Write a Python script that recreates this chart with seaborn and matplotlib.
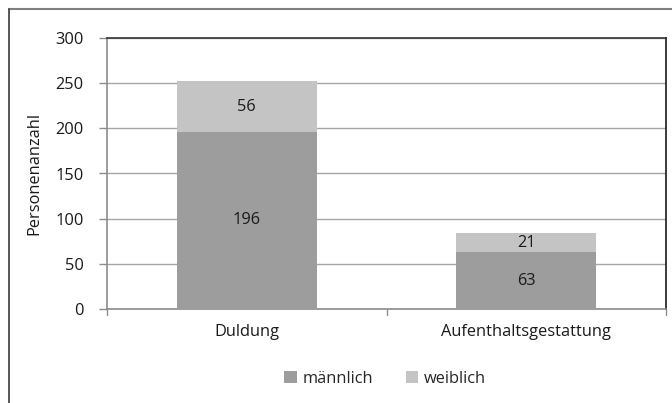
import matplotlib
matplotlib.use("Agg")
import matplotlib.pyplot as plt
import seaborn as sns
import pandas as pd
from matplotlib.patches import Patch
from matplotlib.lines import Line2D

categories = ["Duldung", "Aufenthaltsgestattung"]
maennlich = [196, 63]
weiblich = [56, 21]
series_names = ["männlich", "weiblich"]
y_ticks = [0, 50, 100, 150, 200, 250, 300]

col_m = "#9d9d9d"
col_w = "#c4c4c4"
FS = 11.8

sns.set_theme(style="white")
plt.rcParams["font.family"] = ["Open Sans", "DejaVu Sans"]

df = pd.DataFrame({"Kategorie": categories, "männlich": maennlich, "weiblich": weiblich})
df["gesamt"] = df["männlich"] + df["weiblich"]

fig = plt.figure(figsize=(6.72, 4.03), dpi=100)
ax = fig.add_axes([107/672, 1-309/403, (666-107)/672, (309-38)/403])

sns.barplot(data=df, x="Kategorie", y="gesamt", color=col_w, width=0.5,
            saturation=1, ax=ax, zorder=3, linewidth=0)
sns.barplot(data=df, x="Kategorie", y="männlich", color=col_m, width=0.5,
            saturation=1, ax=ax, zorder=3, linewidth=0)

ax.set_ylim(0, 300)
ax.set_xlim(-0.5, 1.5)
ax.set_yticks(y_ticks)
ax.set_yticklabels([str(t) for t in y_ticks])
ax.yaxis.grid(True, color="#a6a6a6", linewidth=1.0, zorder=0)
ax.set_axisbelow(True)
ax.set_xlabel("")
ax.set_ylabel("Personenanzahl", fontsize=FS, color="#1a1a1a", labelpad=9)

for s in ["left", "bottom"]:
    ax.spines[s].set_color("#8c8c8c")
    ax.spines[s].set_linewidth(1.2)
for s in ["top", "right"]:
    ax.spines[s].set_color("#1a1a1a")
    ax.spines[s].set_linewidth(1.2)
ax.spines["top"].set_color("#333333")

ax.tick_params(axis="y", which="both", left=True, length=6, width=1, color="#8c8c8c",
               labelsize=FS, labelcolor="#1a1a1a", pad=11)
ax.set_xticks([0, 1])
ax.set_xticklabels(categories)
ax.tick_params(axis="x", which="both", bottom=False, labelsize=FS, labelcolor="#1a1a1a", pad=5)
for xb in [-0.5, 0.5, 1.5]:
    ax.plot([xb, xb], [0, -0.022], transform=ax.get_xaxis_transform(),
            color="#8c8c8c", lw=1, clip_on=False)

for i in range(len(categories)):
    m = maennlich[i]
    w = weiblich[i]
    ax.text(i, m/2, str(m), ha="center", va="center", fontsize=FS, color="#1a1a1a", zorder=5)
    ax.text(i, m + w/2, str(w), ha="center", va="center", fontsize=FS, color="#1a1a1a", zorder=5)

handles = [Patch(facecolor=col_m, edgecolor="none"), Patch(facecolor=col_w, edgecolor="none")]
fig.legend(handles, series_names, loc="center", bbox_to_anchor=(385/672, 1-379/403),
           ncol=2, frameon=False, fontsize=FS, handlelength=0.75, handleheight=0.75,
           handletextpad=0.35, columnspacing=2.0)

# outer chart frame (cropped)
fig.add_artist(Line2D([9/672, 1.0], [1-9/403, 1-9/403], transform=fig.transFigure,
                      color="#7f7f7f", lw=1.5))
fig.add_artist(Line2D([9/672, 9/672], [1-9/403, 0.0], transform=fig.transFigure,
                      color="#3a3a3a", lw=1.2))

fig.savefig("out.png", dpi=100)
